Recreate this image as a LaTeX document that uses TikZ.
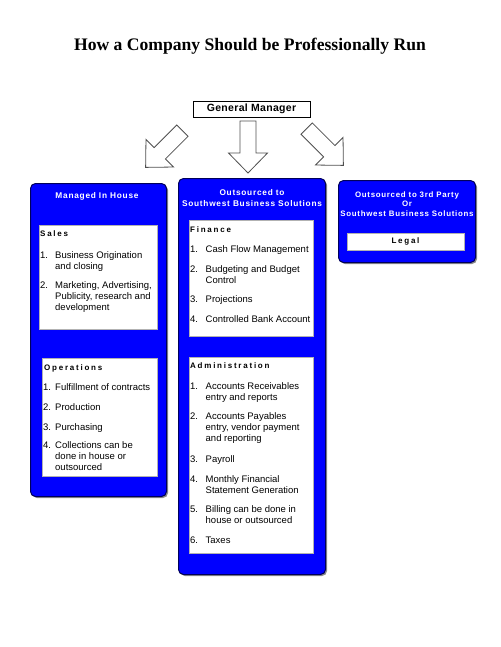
\documentclass[tikz,border=0pt]{standalone}
\usepackage{fontspec}
\usetikzlibrary{shadows}
\setmainfont{Liberation Sans}
\newfontfamily\titlefont{Liberation Serif}
\newfontfamily\hdfont{Liberation Sans}[LetterSpace=9]
\newfontfamily\subfont{Liberation Sans}[LetterSpace=22]
\newfontfamily\gmfont{Liberation Sans}[LetterSpace=3]
\definecolor{bxblue}{HTML}{0000FF}
\definecolor{bxnavy}{HTML}{00005A}
\definecolor{arrowline}{HTML}{505050}
\newcommand{\itemlines}[1]{\begin{tabular}[t]{@{}l@{}}#1\end{tabular}}
\begin{document}
\begin{tikzpicture}[x=1pt,y=-1pt,
  bluebox/.style={fill=bxblue, draw=bxnavy, line width=1pt, rounded corners=5pt, anchor=north west, inner sep=0pt,
    drop shadow={shadow xshift=1.5pt, shadow yshift=-1.5pt, fill=black!45, opacity=1}},
  whitebox/.style={fill=white, draw=black!30, line width=0.5pt, anchor=north west, inner sep=0pt},
  hdtxt/.style={text=white, align=center, inner sep=0pt, font=\hdfont\bfseries\fontsize{8.3}{11}\selectfont},
  subtxt/.style={anchor=base west, inner sep=0pt, font=\subfont\bfseries\fontsize{8}{10}\selectfont},
  numtxt/.style={anchor=base west, inner sep=0pt, font=\fontsize{9.5}{11}\selectfont},
  itemtxt/.style={anchor=base west, inner sep=0pt, font=\fontsize{9.5}{11}\selectfont},
  blockarrow/.style={fill=white, draw=arrowline, line width=0.8pt, line join=miter}]
\useasboundingbox (0,0) rectangle (500,647);

% title
\node[font=\titlefont\bfseries\fontsize{17.6}{20}\selectfont] (title) at (250,46) {How a Company Should be Professionally Run};

% general manager
\node[draw, line width=0.8pt, minimum width=117pt, minimum height=16pt, inner sep=0pt,
  font=\gmfont\bfseries\fontsize{10.5}{12}\selectfont] (gm) at (251.5,109) {General Manager};

% block arrows
\draw[blockarrow, shift={(164,149)}, rotate=-45] (-8,-26) -- (8,-26) -- (8,6) -- (19.5,6) -- (0,26) -- (-19.5,6) -- (-8,6) -- cycle;
\draw[blockarrow, shift={(248,147)}] (-8,-26) -- (8,-26) -- (8,6) -- (19.5,6) -- (0,26) -- (-19.5,6) -- (-8,6) -- cycle;
\draw[blockarrow, shift={(325,147)}, rotate=45] (-8,-26) -- (8,-26) -- (8,6) -- (19.5,6) -- (0,26) -- (-19.5,6) -- (-8,6) -- cycle;

% blue boxes
\node[bluebox, minimum width=136pt, minimum height=313pt] (inhouse) at (30,183) {};
\node[bluebox, minimum width=147pt, minimum height=396pt] (sbs) at (178,178) {};
\node[bluebox, minimum width=137pt, minimum height=82pt] (third) at (338,180) {};

% headers
\node[hdtxt] (inhouseHd) at (97,196) {Managed In House};
\node[hdtxt] (sbsHd) at (252,198.5) {Outsourced to\\Southwest Business Solutions};
\node[hdtxt, font=\hdfont\bfseries\fontsize{7.9}{9.5}\selectfont] (thirdHd) at (407,204) {Outsourced to 3rd Party\\Or\\Southwest Business Solutions};

% white boxes
\node[whitebox, minimum width=118pt, minimum height=104pt] (salesBox) at (39,225) {};
\node[whitebox, minimum width=115pt, minimum height=118pt] (opsBox) at (42,358) {};
\node[whitebox, minimum width=124pt, minimum height=116pt] (finBox) at (189,220) {};
\node[whitebox, minimum width=124pt, minimum height=196pt] (admBox) at (189,357) {};
\node[whitebox, minimum width=117pt, minimum height=17pt] (legalBox) at (347,233) {};
\node[inner sep=0pt, font=\subfont\bfseries\fontsize{8}{10}\selectfont] (legal) at (405.5,241.5) {Legal};

% Sales
\node[subtxt] (salesHd) at (40,236) {Sales};
\node[numtxt] (s1n) at (40,258) {1.};
\node[itemtxt] (s1t) at (55,258) {\itemlines{Business Origination\\and closing}};
\node[numtxt] (s2n) at (40,288) {2.};
\node[itemtxt] (s2t) at (55,288) {\itemlines{Marketing, Advertising,\\Publicity, research and\\development}};

% Operations
\node[subtxt] (opsHd) at (44,370) {Operations};
\node[numtxt] (o1n) at (43,390) {1.};
\node[itemtxt] (o1t) at (55,390) {Fulfillment of contracts};
\node[numtxt] (o2n) at (43,410) {2.};
\node[itemtxt] (o2t) at (55,410) {Production};
\node[numtxt] (o3n) at (43,430) {3.};
\node[itemtxt] (o3t) at (55,430) {Purchasing};
\node[numtxt] (o4n) at (43,448) {4.};
\node[itemtxt] (o4t) at (55,448) {\itemlines{Collections can be\\done in house or\\outsourced}};

% Finance
\node[subtxt] (finHd) at (190,232) {Finance};
\node[numtxt] (f1n) at (190,252) {1.};
\node[itemtxt] (f1t) at (205.5,252) {Cash Flow Management};
\node[numtxt] (f2n) at (190,272) {2.};
\node[itemtxt] (f2t) at (205.5,272) {\itemlines{Budgeting and Budget\\Control}};
\node[numtxt] (f3n) at (190,302) {3.};
\node[itemtxt] (f3t) at (205.5,302) {Projections};
\node[numtxt] (f4n) at (190,322) {4.};
\node[itemtxt] (f4t) at (205.5,322) {Controlled Bank Account};

% Administration
\node[subtxt] (admHd) at (190,368) {Administration};
\node[numtxt] (a1n) at (190,389) {1.};
\node[itemtxt] (a1t) at (205.5,389) {\itemlines{Accounts Receivables\\entry and reports}};
\node[numtxt] (a2n) at (190,419) {2.};
\node[itemtxt] (a2t) at (205.5,419) {\itemlines{Accounts Payables\\entry, vendor payment\\and reporting}};
\node[numtxt] (a3n) at (190,462) {3.};
\node[itemtxt] (a3t) at (205.5,462) {Payroll};
\node[numtxt] (a4n) at (190,482) {4.};
\node[itemtxt] (a4t) at (205.5,482) {\itemlines{Monthly Financial\\Statement Generation}};
\node[numtxt] (a5n) at (190,512) {5.};
\node[itemtxt] (a5t) at (205.5,512) {\itemlines{Billing can be done in\\house or outsourced}};
\node[numtxt] (a6n) at (190,543) {6.};
\node[itemtxt] (a6t) at (205.5,543) {Taxes};
\end{tikzpicture}
\end{document}
